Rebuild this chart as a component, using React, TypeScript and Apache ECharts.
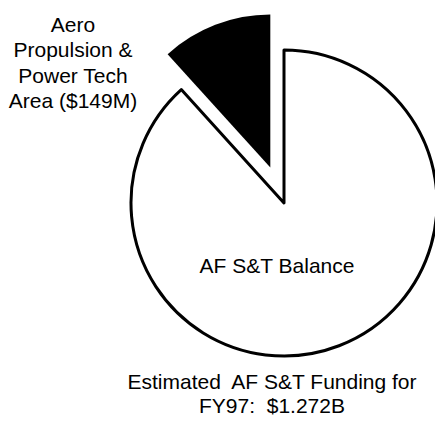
import React, { useEffect, useRef } from "react";
import * as echarts from "echarts";

const sliceNames = ["AF S&T Balance", "Aero Propulsion & Power Tech Area ($149M)"];
const sliceValues = [1123, 149];
const sliceColors = ["#ffffff", "#000000"];
const aeroLabelLines = ["Aero", "Propulsion &", "Power Tech", "Area ($149M)"];
const balanceLabel = "AF S&T Balance";
const footerLines = ["Estimated  AF S&T Funding for", "FY97:  $1.272B"];

export default function App() {
  const ref = useRef<HTMLDivElement>(null);
  useEffect(() => {
    if (!ref.current) return;
    const chart = echarts.init(ref.current, null, { renderer: "svg" });
    const font = "'Liberation Sans', Arial, Helvetica, sans-serif";
    const textStyle = (t: string) => ({
      text: t,
      fill: "#000",
      font: `21px ${font}`,
      align: "center",
      verticalAlign: "middle",
    });
    chart.setOption({
      animation: false,
      backgroundColor: "#ffffff",
      series: [
        {
          type: "pie",
          center: [284, 203],
          radius: 153,
          startAngle: 90,
          clockwise: true,
          selectedMode: "single",
          selectedOffset: 38,
          silent: true,
          label: { show: false },
          labelLine: { show: false },
          emphasis: { disabled: true },
          data: sliceNames.map((n, i) => ({
            name: n,
            value: sliceValues[i],
            selected: i === 1,
            itemStyle: {
              color: sliceColors[i],
              borderColor: "#000",
              borderWidth: i === 0 ? 3 : 0,
            },
            select: {
              itemStyle: {
                color: sliceColors[i],
                borderColor: "#000",
                borderWidth: i === 0 ? 3 : 0,
              },
            },
          })),
        },
      ],
      graphic: [
        ...aeroLabelLines.map((t, i) => ({
          type: "text",
          z: 100,
          x: 73,
          y: 24 + i * 25.5,
          style: textStyle(t),
        })),
        { type: "text", z: 100, x: 277, y: 265, style: textStyle(balanceLabel) },
        ...footerLines.map((t, i) => ({
          type: "text",
          z: 100,
          x: 272,
          y: 381 + i * 24,
          style: textStyle(t),
        })),
      ],
    });
    return () => chart.dispose();
  }, []);
  return (
    <div
      ref={ref}
      style={{ position: "fixed", left: 0, top: 0, width: 435, height: 425 }}
    />
  );
}
